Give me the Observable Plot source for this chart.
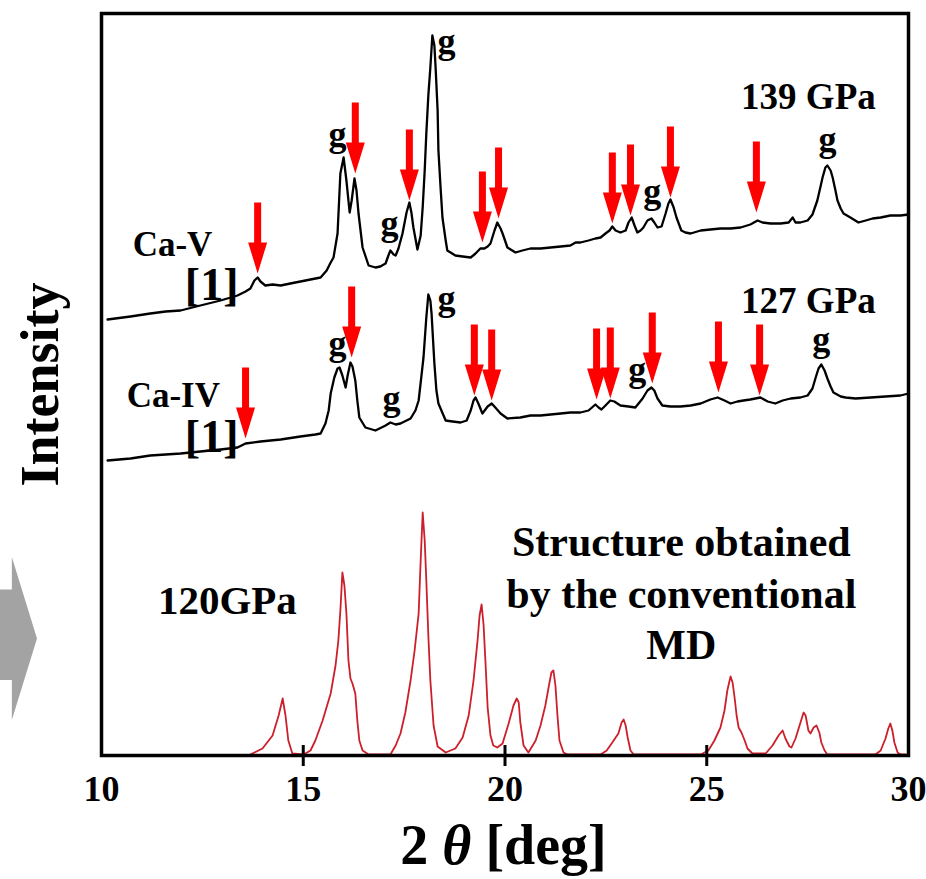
<!DOCTYPE html>
<html><head><meta charset="utf-8">
<script src="https://cdn.jsdelivr.net/npm/d3@7"></script>
<script src="https://cdn.jsdelivr.net/npm/@observablehq/plot@0.6"></script>
<style>
body{margin:0;background:#fff;}
#wrap{position:relative;width:926px;height:879px;}
#garrow{position:absolute;left:0;top:557px;width:37px;height:163px;background:#a3a3a3;
clip-path:polygon(0 20%, 32% 20%, 32% 0, 100% 50%, 32% 100%, 32% 75.5%, 0 75.5%);}
</style></head><body><div id="wrap"><div id="garrow"></div></div>
<script>
// ---- data (2θ in degrees, intensity in arbitrary units) ----
const x139 = [10.15,10.72,11.21,11.59,11.96,12.45,12.95,13.37,13.57,13.69,13.79,13.87,13.94,14.06,14.24,14.44,14.68,14.93,15.18,15.43,15.58,15.68,15.75,15.85,15.92,16.00,16.07,16.15,16.20,16.27,16.32,16.37,16.47,16.62,16.79,16.91,17.04,17.11,17.16,17.24,17.29,17.36,17.46,17.56,17.63,17.68,17.73,17.83,17.91,17.96,18.01,18.05,18.10,18.15,18.20,18.25,18.28,18.33,18.35,18.40,18.45,18.53,18.57,18.77,18.95,19.15,19.27,19.39,19.49,19.57,19.64,19.74,19.81,19.89,19.94,20.06,20.26,20.43,20.63,20.88,21.13,21.38,21.62,21.75,21.87,22.07,22.24,22.37,22.49,22.59,22.66,22.74,22.86,22.99,23.06,23.14,23.21,23.28,23.36,23.43,23.53,23.63,23.70,23.78,23.88,23.98,24.05,24.10,24.18,24.25,24.37,24.47,24.60,24.85,25.09,25.34,25.59,25.84,26.08,26.26,26.38,26.58,26.83,27.03,27.13,27.20,27.32,27.50,27.62,27.74,27.82,27.87,27.94,27.99,28.07,28.12,28.19,28.24,28.32,28.39,28.56,28.76,28.94,29.11,29.31,29.55,29.80,30.00];
const i139 = [436,439,442,444,445,450,455,460,464,467,475,478,474,470,471,470,472,474,476,478,485,493,498,522,582,598,575,543,555,577,565,542,508,490,488,489,492,500,505,501,500,507,522,543,553,543,528,506,520,548,585,622,660,688,720,710,688,645,605,570,538,515,505,500,499,498,502,507,507,509,512,525,533,527,522,508,503,505,507,507,508,509,510,513,513,515,517,518,522,525,529,525,523,525,533,538,530,523,525,528,535,537,533,528,529,542,552,556,548,538,525,523,522,525,526,527,527,528,531,535,533,532,532,533,538,533,533,535,541,555,569,578,588,590,585,578,565,555,547,542,538,533,535,537,538,540,540,541];

const x127 = [10.15,10.72,11.21,11.59,11.96,12.45,12.95,13.37,13.57,13.94,14.44,14.93,15.30,15.43,15.55,15.63,15.68,15.77,15.85,15.90,15.97,16.05,16.10,16.17,16.22,16.29,16.34,16.39,16.54,16.79,17.04,17.16,17.29,17.41,17.66,17.78,17.86,17.93,17.98,18.05,18.10,18.15,18.18,18.25,18.30,18.35,18.53,18.70,18.90,19.05,19.15,19.22,19.27,19.34,19.44,19.57,19.67,19.76,19.89,20.06,20.38,20.63,20.88,21.13,21.38,21.62,21.87,22.07,22.24,22.32,22.39,22.49,22.61,22.71,22.86,23.06,23.23,23.41,23.53,23.63,23.70,23.78,23.90,24.10,24.35,24.60,24.85,25.09,25.27,25.44,25.59,25.76,25.91,26.08,26.33,26.51,26.70,26.88,27.08,27.32,27.50,27.62,27.70,27.77,27.84,27.92,27.99,28.07,28.14,28.32,28.44,28.69,29.06,29.43,29.80,30.00];
const i127 = [295,297,300,301,302,304,306,308,312,314,316,319,321,322,332,345,362,378,387,388,380,368,380,393,389,375,355,338,328,325,330,333,331,332,337,345,355,380,398,438,461,455,442,392,365,352,335,334,333,335,345,355,358,352,342,349,352,348,342,337,338,340,340,341,342,343,343,345,351,348,346,350,355,354,350,349,348,357,365,368,365,357,350,349,349,350,352,356,358,355,352,354,355,356,358,354,352,355,357,358,360,367,378,387,391,385,377,369,363,359,358,357,358,359,360,362];

const x120 = [13.69,13.99,14.24,14.39,14.49,14.56,14.63,14.73,15.01,15.18,15.30,15.48,15.68,15.80,15.87,15.92,15.97,16.02,16.07,16.12,16.17,16.22,16.29,16.34,16.39,16.47,16.62,17.16,17.29,17.41,17.53,17.66,17.76,17.86,17.91,17.96,18.01,18.05,18.10,18.15,18.23,18.33,18.53,18.77,18.95,19.10,19.22,19.32,19.37,19.42,19.47,19.52,19.57,19.64,19.71,19.81,19.94,20.09,20.21,20.29,20.34,20.38,20.46,20.58,20.76,20.88,21.00,21.08,21.15,21.20,21.25,21.30,21.35,21.45,21.55,22.37,22.52,22.66,22.81,22.89,22.94,22.99,23.04,23.11,23.19,24.85,25.04,25.19,25.34,25.44,25.51,25.59,25.64,25.69,25.74,25.79,25.86,25.94,26.01,26.13,26.46,26.63,26.78,26.88,26.95,27.05,27.10,27.20,27.30,27.40,27.45,27.52,27.57,27.65,27.72,27.79,27.84,27.92,27.99,29.18,29.31,29.43,29.50,29.55,29.60,29.65,29.73,29.80,29.93];
const i120 = [1,7,20,40,57,40,15,2,1,5,15,35,62,90,115,145,183,170,142,95,77,72,62,35,15,5,1,1,10,22,43,75,105,142,195,243,215,175,120,75,30,9,3,7,18,40,75,115,140,151,130,90,48,20,10,8,12,32,50,57,53,33,10,3,15,30,50,68,83,85,70,40,15,3,1,1,5,13,22,33,36,30,18,5,1,1,5,15,28,45,65,79,73,58,40,28,23,15,7,2,2,10,20,25,17,9,8,17,30,43,40,25,22,28,30,23,13,5,1,1,5,17,27,32,25,13,3,1,1];

// red marker arrows (tip position)
const arrowX139 = [13.87,16.29,17.63,19.44,19.84,22.66,23.11,24.10,26.23];
const arrowY139 = [482,582,555,513,537,532,540,558,543];
const arrowX127 = [13.57,16.20,19.24,19.67,22.27,22.61,23.65,25.29,26.31];
const arrowY127 = [317,398,360,355,356,357,372,363,360];

// "g" labels
const gX139 = [15.85,17.14,18.55,23.65,27.99];
const gY139 = [610,521,703,553,605];
const gX127 = [15.85,17.19,18.55,23.28,27.84];
const gY127 = [401,346,446,375,405];

const pressureLabels = ["139 GPa","127 GPa"];
const pressureX = [27.52,27.52];
const pressureY = [647,443];
const phaseLabels = ["Ca-V","Ca-IV"];
const phaseX = [11.76,11.78];
const phaseY = [500,349];
const refLabels = ["[1]","[1]"];
const refX = [12.73,12.73];
const refY = [456,304];
const simLabel = ["120GPa"];
const simLabelX = [13.12];
const simLabelY = [142];
const mdLines = ["Structure obtained","by the conventional","MD"];
const mdX = [24.37,24.37,24.37];
const mdY = [200,148,97];

const xTicks = [10,15,20,25,30];

// ---- build tables ----
const zipXY = (xs, ys) => xs.map((x, k) => ({x, y: ys[k]}));
const zipLab = (ls, xs, ys) => ls.map((t, k) => ({t, x: xs[k], y: ys[k]}));
const s139 = zipXY(x139, i139);
const s127 = zipXY(x127, i127);
const s120 = zipXY(x120, i120);
const arrows = zipXY(arrowX139.concat(arrowX127), arrowY139.concat(arrowY127));
const gLabs = zipXY(gX139.concat(gX127), gY139.concat(gY127));

const redArrow = {
  draw(context, l) {
    const hl = 31, hw = 9.5, sw = 3.5;
    context.moveTo(-sw, 0);
    context.lineTo(-sw, -(l - hl));
    context.lineTo(-hw, -(l - hl));
    context.lineTo(0, -l);
    context.lineTo(hw, -(l - hl));
    context.lineTo(sw, -(l - hl));
    context.lineTo(sw, 0);
    context.closePath();
  }
};

const FONT = "'Liberation Serif','Times New Roman',serif";
const txt = (data, size) => Plot.text(data, {x: "x", y: "y", text: "t", fontSize: size, fontWeight: "bold", lineAnchor: "bottom", textAnchor: "middle", fill: "black"});

const chart = Plot.plot({
  width: 926, height: 879,
  marginLeft: 101, marginRight: 18, marginTop: 13, marginBottom: 124,
  x: {domain: [10, 30]},
  y: {domain: [0, 742], axis: null},
  style: {fontFamily: FONT, color: "black", background: "white", overflow: "visible"},
  marks: [
    Plot.line(s120, {x: "x", y: "y", stroke: "#cc1f2a", strokeWidth: 1.8}),
    Plot.line(s139, {x: "x", y: "y", stroke: "black", strokeWidth: 2.3}),
    Plot.line(s127, {x: "x", y: "y", stroke: "black", strokeWidth: 2.3}),
    Plot.vector(arrows, {x: "x", y: "y", length: 71, rotate: 180, anchor: "end", shape: redArrow, fill: "#ff0000", stroke: "none"}),
    Plot.text(gLabs, {x: "x", y: "y", text: () => "g", fontSize: 36, fontWeight: "bold", lineAnchor: "bottom", fill: "black"}),
    txt(zipLab(pressureLabels, pressureX, pressureY), 37),
    txt(zipLab(phaseLabels, phaseX, phaseY), 35),
    txt(zipLab(refLabels, refX, refY), 46),
    txt(zipLab(simLabel, simLabelX, simLabelY), 41),
    txt(zipLab(mdLines, mdX, mdY), 42),
    Plot.frame({stroke: "black", strokeWidth: 3.5}),
    Plot.ruleX(xTicks.slice(1, -1), {y1: -11, y2: 10, stroke: "black", strokeWidth: 3}),
    Plot.axisX({ticks: xTicks, tickSize: 0, tickPadding: 20, fontSize: 36, fontWeight: "bold", label: null, tickFormat: d => String(d)}),
    Plot.text(["Intensity"], {frameAnchor: "left", rotate: -90, dx: -44, fontSize: 54, fontWeight: "bold", lineAnchor: "bottom", textAnchor: "middle", fill: "black"})
  ]
});

document.getElementById("wrap").appendChild(chart);

// x-axis title with italic theta
const sx = chart.scale("x");
const title = d3.select(chart).append("text")
  .attr("x", sx.apply(20) - 1).attr("y", 864)
  .attr("text-anchor", "middle")
  .attr("font-family", FONT).attr("font-weight", "bold").attr("font-size", 56)
  .attr("fill", "black");
title.append("tspan").text("2 ");
title.append("tspan").attr("font-style", "italic").text("θ");
title.append("tspan").text(" [deg]");
</script></body></html>
